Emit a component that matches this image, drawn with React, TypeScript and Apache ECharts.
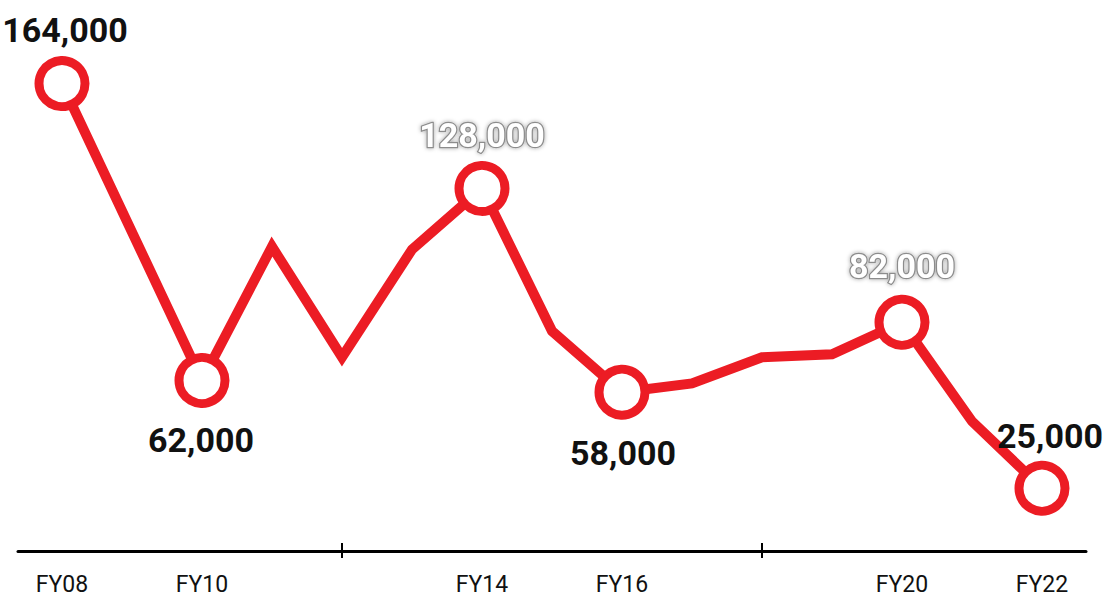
import React, { useEffect, useRef } from "react";
import * as echarts from "echarts";

const categories = ["FY08", "FY09", "FY10", "FY11", "FY12", "FY13", "FY14", "FY15", "FY16", "FY17", "FY18", "FY19", "FY20", "FY21", "FY22"];
const values = [164000, 113000, 62000, 108000, 70000, 107000, 128000, 79000, 58000, 61000, 70000, 71000, 82000, 48000, 25000];
const labelledCategories = ["FY08", "FY10", "FY14", "FY16", "FY20", "FY22"];
const tickCategories = ["FY12", "FY18"];
const markedCategories = ["FY08", "FY10", "FY14", "FY16", "FY20", "FY22"];
const outlinedLabels = ["FY14", "FY20"];

const RED = "#EC1C24";
const FONT = "Roboto, 'Liberation Sans Narrow', 'DejaVu Sans Condensed', sans-serif";

// label offsets (pixels) relative to marker centre
const labelOffsets: Record<string, [number, number]> = {
  FY08: [3, -54],
  FY10: [-1, 59],
  FY14: [0, -53],
  FY16: [1, 61],
  FY20: [0, -56],
  FY22: [8, -52],
};

export default function App() {
  const ref = useRef<HTMLDivElement>(null);
  useEffect(() => {
    document.body.style.margin = "0";
    const chart = echarts.init(ref.current!, undefined, { renderer: "svg" });
    const data = values.map((v, i) => {
      const c = categories[i];
      if (!markedCategories.includes(c)) {
        return { value: v, symbol: "none", label: { show: false } };
      }
      const outlined = outlinedLabels.includes(c);
      return {
        value: v,
        label: {
          show: true,
          position: "inside",
          offset: labelOffsets[c],
          formatter: (p: any) => Number(p.value).toLocaleString("en-US"),
          fontFamily: FONT,
          fontWeight: "bold",
          fontSize: 34,
          color: outlined ? "#ffffff" : "#111111",
          textBorderColor: outlined ? "#8c8c8c" : "transparent",
          textBorderWidth: outlined ? 2.5 : 0,
          textShadowColor: outlined ? "rgba(0,0,0,0.35)" : "transparent",
          textShadowBlur: outlined ? 4 : 0,
        },
      };
    });
    chart.setOption({
      animation: false,
      backgroundColor: "#ffffff",
      grid: [
        { left: 27, right: 36, top: 37, bottom: 44 },
        { left: 18, right: 27, top: 540, bottom: 53.5 },
      ],
      xAxis: [
        {
          type: "category",
          gridIndex: 0,
          data: categories,
          boundaryGap: true,
          offset: -18,
          axisLine: { show: false, onZero: false },
          axisTick: {
            show: true,
            alignWithLabel: true,
            length: 15,
            interval: (_i: number, v: string) => tickCategories.includes(v),
            lineStyle: { color: "#000", width: 2 },
          },
          axisLabel: {
            interval: (_i: number, v: string) => labelledCategories.includes(v),
            fontFamily: FONT,
            fontSize: 23,
            color: "#111",
            margin: 30,
          },
          splitLine: { show: false },
        },
        {
          type: "value",
          gridIndex: 1,
          min: 0,
          max: 1,
          axisLine: { show: true, onZero: false, lineStyle: { color: "#000", width: 3 } },
          axisTick: { show: false },
          axisLabel: { show: false },
          splitLine: { show: false },
        },
      ],
      yAxis: [
        { type: "value", gridIndex: 0, min: 0, max: 180000, show: false },
        { type: "value", gridIndex: 1, min: 0, max: 1, show: false },
      ],
      series: [
        {
          type: "line",
          xAxisIndex: 0,
          yAxisIndex: 0,
          data,
          symbol: "circle",
          symbolSize: 46,
          showAllSymbol: true,
          lineStyle: { color: RED, width: 10, join: "miter" },
          itemStyle: { color: "#ffffff", borderColor: RED, borderWidth: 9 },
          emphasis: { disabled: true },
          z: 3,
        },
      ],
    });
    return () => chart.dispose();
  }, []);
  return <div ref={ref} style={{ width: 1113, height: 605 }} />;
}
